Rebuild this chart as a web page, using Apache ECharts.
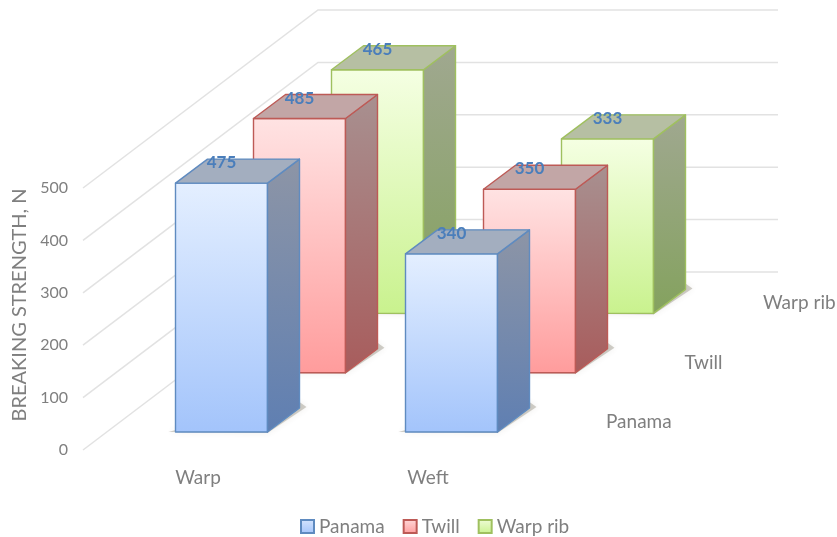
<!DOCTYPE html>
<html><head><meta charset="utf-8">
<script src="https://cdn.jsdelivr.net/npm/echarts@6/dist/echarts.min.js"></script>
<style>html,body{margin:0;padding:0;background:#fff}#c{width:837px;height:537px}</style>
</head><body><div id="c"></div>
<script>
const categories = ['Warp', 'Weft'];
const seriesNames = ['Panama', 'Twill', 'Warp rib'];
const panama = [475, 340];
const twill = [485, 350];
const warpRib = [465, 333];
const yTicks = [0, 100, 200, 300, 400, 500];
const axisTitle = 'BREAKING STRENGTH, N';

const FONT = 'Lato, "Open Sans", sans-serif';
const grad = (a, b) => ({type:'linear',x:0,y:0,x2:0,y2:1,colorStops:[{offset:0,color:a},{offset:1,color:b}]});
const palette = [
  {front:grad('#e4efff','#a3c4fb'), side:grad('#8d95a6','#5f7fb2'), top:'#a3aebf', line:'#5f8bc0', legend:grad('#d6e5fd','#a3c4fb')},
  {front:grad('#ffe3e3','#ff9c9c'), side:grad('#a89090','#a85c5c'), top:'#c2a6a6', line:'#bd5a56', legend:grad('#ffd9d9','#ff9c9c')},
  {front:grad('#f5ffe3','#c9f28e'), side:grad('#a0a890','#84a25e'), top:'#b6bfa3', line:'#9fc05f', legend:grad('#f0fcd8','#c9f28e')}
];
const STEP_X = 78, STEP_Y = 59.3, BAR_W = 92, DEPTH_X = 32, DEPTH_Y = 24, LEFT_OFF = -22.5, BASE_OFF = 18;

function barSeries(k, values) {
  const c = palette[k];
  return {
    name: seriesNames[k], type: 'custom', z: 10 - k,
    itemStyle: {color: c.legend, borderColor: c.line, borderWidth: 1.2},
    data: values.map((v, i) => [i, v]),
    renderItem(params, api) {
      const i = api.value(0), v = api.value(1);
      const p0 = api.coord([i, 0]), p1 = api.coord([i, v]);
      const x = p0[0] + LEFT_OFF + k * STEP_X;
      const shift = BASE_OFF + k * STEP_Y;
      const b = p0[1] - shift, t = p1[1] - shift, r = x + BAR_W;
      const poly = (pts, fill) => ({type:'polygon', shape:{points:pts},
        style:{fill, stroke:c.line, lineWidth:1.4, lineJoin:'round'}});
      return {type:'group', children:[
        {type:'polygon', shape:{points:[[x-7,b],[r,b+1],[r+DEPTH_X+7,b-DEPTH_Y-1],[r+DEPTH_X,b-DEPTH_Y-6],[x,b-2]]},
          style:{fill:'rgba(95,85,65,0.28)', shadowBlur:6, shadowColor:'rgba(95,85,65,0.35)'}},
        poly([[x,t],[r,t],[r,b],[x,b]], c.front),
        poly([[r,t],[r+DEPTH_X,t-DEPTH_Y],[r+DEPTH_X,b-DEPTH_Y],[r,b]], c.side),
        poly([[x,t],[x+DEPTH_X,t-DEPTH_Y],[r+DEPTH_X,t-DEPTH_Y],[r,t]], c.top),
        {type:'text', z2:50, style:{text:String(v), x:x+BAR_W/2, y:t-20.5, align:'center', verticalAlign:'middle',
          fill:'#4a7ebb', font:'bold 17px '+FONT}}
      ]};
    }
  };
}

const option = {
  animation: false,
  backgroundColor: '#fff',
  grid: {left: 83, width: 460, top: 188, height: 262, outerBoundsMode: 'none'},
  legend: {
    data: seriesNames, top: 512, left: 295, icon: 'rect', itemWidth: 13, itemHeight: 13, itemGap: 18,
    textStyle: {color: '#7f7f7f', fontSize: 19, fontFamily: FONT}, selectedMode: false
  },
  xAxis: {type:'category', data: categories, axisLine:{show:false}, axisTick:{show:false},
    axisLabel:{color:'#7f7f7f', fontSize:19, fontFamily:FONT, margin:18}},
  yAxis: {type:'value', min:0, max:500, interval:100, splitLine:{show:false}, axisLine:{show:false}, axisTick:{show:false},
    axisLabel:{color:'#7f7f7f', fontSize:16, fontFamily:FONT, margin:15},
    name: axisTitle, nameLocation:'middle', nameGap:20, nameRotate:90,
    nameTextStyle:{color:'#7f7f7f', fontSize:20, fontFamily:FONT, padding:[0,0,30,28]}},
  series: [
    {type:'custom', z:1, silent:true, data: yTicks.map(t => [0, t]),
      renderItem(params, api) {
        const p = api.coord([0, api.value(1)]);
        const x0 = params.coordSys.x;
        return {type:'polyline', shape:{points:[[x0,p[1]],[x0+235,p[1]-178],[x0+695,p[1]-178]]},
          style:{fill:'none', stroke:'#e2e2e2', lineWidth:1.5}};
      }},
    barSeries(0, panama), barSeries(1, twill), barSeries(2, warpRib),
    {type:'custom', z:20, silent:true, data: seriesNames.map(() => [1, 0]),
      renderItem(params, api) {
        const k = params.dataIndex, p = api.coord([1, 0]);
        return {type:'text', style:{text:seriesNames[k], x:p[0]+178+k*78.5, y:p[1]-28-k*59.5,
          align:'left', verticalAlign:'middle', fill:'#7f7f7f', font:'19px '+FONT}};
      }}
  ]
};
echarts.init(document.getElementById('c')).setOption(option);
</script></body></html>
